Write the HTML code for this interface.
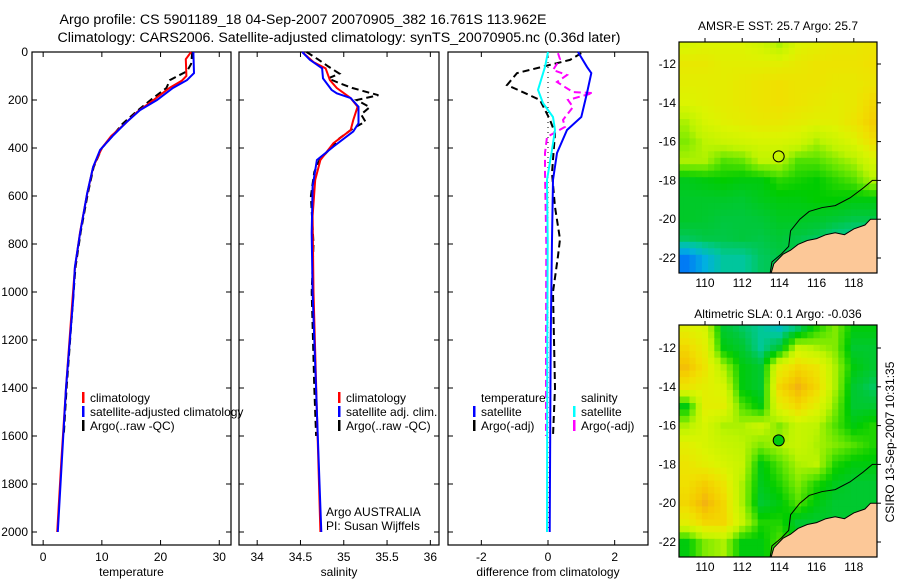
<!DOCTYPE html>
<html><head><meta charset="utf-8"><style>
body{margin:0;background:#fff}
svg text{font-family:"Liberation Sans",sans-serif;fill:#000}
</style></head><body>
<svg id="fig" width="900" height="580" viewBox="0 0 900 580" xmlns="http://www.w3.org/2000/svg">
<text x="303" y="24" font-size="14.2" text-anchor="middle">Argo profile: CS 5901189_18 04-Sep-2007 20070905_382 16.761S 113.962E</text>
<text x="339" y="42" font-size="14.2" text-anchor="middle">Climatology: CARS2006. Satellite-adjusted climatology: synTS_20070905.nc (0.36d later)</text>
<g id="plots"></g>
<text x="778" y="30" font-size="12" text-anchor="middle">AMSR-E SST: 25.7 Argo: 25.7</text>
<text x="778" y="318" font-size="12" text-anchor="middle">Altimetric SLA: 0.1 Argo: -0.036</text>
<text transform="translate(894,442) rotate(-90)" font-size="12" text-anchor="middle">CSIRO 13-Sep-2007 10:31:35</text>
</svg>
<script>
// ---------- profile data ----------
const tClimDepth=[0,30,100,120,150,200,250,300,350,400,480,590,750,900,1030,1400,1700,2000];
const tClimVal=[25.2,24.3,24.4,23.6,21.5,18.8,16.0,13.9,11.6,10.0,8.5,7.5,6.3,5.4,5.0,3.9,3.1,2.4];
const tSatDepth=[0,5,88,117,150,200,242,290,346,408,479,588,754,896,1033,1400,1700,2000];
const tSatVal=[25.6,25.6,25.7,24.5,22.1,19.4,16.5,14.3,12.0,9.7,8.5,7.5,6.3,5.4,5.1,3.9,3.2,2.5];
const tArgoDepth=[0,50,80,117,150,200,250,300,350,400,480,590,750,900,1030,1400,1600];
const tArgoVal=[25.4,25.2,24.5,21.6,21.0,18.3,15.8,13.5,11.8,10.0,8.6,7.6,6.4,5.5,5.1,4.0,3.5];
const sClimDepth=[0,42,68,117,150,192,228,283,325,380,450,533,683,1000,1500,2000];
const sClimVal=[34.52,34.65,34.79,34.84,34.92,35.08,35.16,35.11,35.08,34.88,34.73,34.67,34.64,34.65,34.69,34.73];
const sSatDepth=[0,33,68,110,158,172,192,228,297,331,394,450,561,755,1000,1500,2000];
const sSatVal=[34.52,34.61,34.75,34.76,34.86,34.92,35.08,35.17,35.17,35.11,34.88,34.69,34.64,34.63,34.64,34.69,34.74];
const sArgoDepth=[0,30,60,90,110,130,150,170,180,200,230,260,290,320,360,400,450,500,600,800,1000,1400,1600];
const sArgoVal=[34.57,34.7,34.82,34.95,34.82,34.95,35.1,35.3,35.4,35.15,35.3,35.2,35.25,35.1,34.95,34.85,34.72,34.66,34.62,34.65,34.63,34.66,34.68];
const dTSatDepth=[0,62,88,171,271,325,421,533,783,1200,2000];
const dTSatVal=[0.9,1.17,1.3,1.17,1.0,0.57,0.27,0.15,0.12,0.08,0.05];
const dSSatDepth=[0,62,158,213,271,325,408,533,783,1200,2000];
const dSSatVal=[0,-0.09,-0.3,-0.15,0.15,0.21,0.12,-0.03,-0.01,-0.02,-0.03];
const dTArgoDepth=[5,33,88,138,158,200,283,338,504,646,780,850,1000,1400,1600];
const dTArgoVal=[1.0,0.66,-0.93,-1.23,-0.9,-0.24,0.06,0.21,0.12,0.21,0.36,0.3,0.15,0.21,0.15];
const dSArgoDepth=[5,30,75,96,125,167,171,200,229,283,312,354,421,504,800,1200,1600];
const dSArgoVal=[0.3,0.36,0.15,0.57,0.27,0.75,1.35,0.6,0.75,0.45,0.51,-0.03,-0.09,-0.09,-0.05,-0.06,-0.06];
const depthTicks=[0,200,400,600,800,1000,1200,1400,1600,1800,2000];
const tempTicks=[0,10,20,30];
const salTicks=[34,34.5,35,35.5,36];
const diffTicks=[-2,0,2];
// ---------- map data (0..1 colour index), rows lat -11..-22, cols lon 109..119 ----------
const sstGrid=[
[.70,.72,.72,.72,.68,.60,.72,.75,.78,.78,.80],
[.78,.78,.75,.75,.75,.75,.78,.80,.80,.80,.82],
[.75,.75,.76,.78,.80,.82,.80,.80,.78,.78,.80],
[.72,.74,.76,.78,.80,.82,.80,.78,.76,.78,.85],
[.60,.70,.74,.76,.78,.78,.76,.74,.75,.80,.88],
[.55,.62,.66,.68,.70,.70,.68,.60,.66,.72,.82],
[.60,.60,.50,.52,.62,.62,.50,.50,.55,.60,.70],
[.38,.40,.42,.40,.40,.46,.44,.42,.46,.50,.60],
[.36,.36,.36,.35,.38,.40,.40,.42,.42,.40,.40],
[.36,.35,.33,.33,.34,.37,.37,.36,.34,.32,.32],
[.30,.32,.32,.33,.32,.34,.32,.30,.26,.24,.22],
[.05,.15,.24,.24,.30,.32,.32,.32,.32,.32,.32]];
const slaGrid=[
[.75,.70,.35,.30,.25,.20,.30,.45,.55,.40,.40],
[.85,.75,.40,.35,.25,.35,.65,.60,.55,.35,.35],
[.92,.80,.60,.40,.35,.75,.85,.80,.60,.40,.35],
[.80,.75,.70,.40,.35,.85,.95,.85,.60,.35,.30],
[.40,.75,.75,.50,.40,.75,.85,.75,.55,.35,.35],
[.60,.70,.60,.60,.65,.55,.65,.62,.50,.40,.45],
[.75,.70,.65,.62,.55,.60,.65,.60,.55,.50,.45],
[.80,.75,.70,.65,.40,.50,.60,.62,.45,.40,.40],
[.82,.88,.80,.60,.38,.45,.55,.45,.38,.35,.35],
[.85,.95,.85,.60,.35,.40,.50,.40,.35,.35,.35],
[.75,.85,.85,.65,.45,.45,.35,.35,.35,.35,.35],
[.40,.55,.60,.40,.40,.50,.40,.35,.35,.35,.35]];
const landLon=[113.55,113.7,114.0,114.2,114.6,115,115.5,116,116.5,117,117.5,118,118.6,118.9,119.3,119.3];
const landLat=[-22.8,-22.3,-22.0,-21.8,-21.6,-21.3,-21.1,-21.0,-20.8,-20.7,-20.8,-20.5,-20.3,-20.0,-20.0,-22.8];
const isoLon=[113.5,113.6,114.1,114.5,114.6,115.1,115.6,116.3,117,117.8,118.5,119,119.3];
const isoLat=[-22.8,-22.2,-21.8,-21.4,-20.6,-20.0,-19.6,-19.4,-19.3,-18.9,-18.4,-18.0,-18.0];
const argoLon=113.962, argoLat=-16.761;
const lonTicks=[110,112,114,116,118];
const latTicks=[-12,-14,-16,-18,-20,-22];

const NS='http://www.w3.org/2000/svg';
const root=document.getElementById('plots');
function mk(tag,attrs,parent){const e=document.createElementNS(NS,tag);for(const k in attrs)e.setAttribute(k,attrs[k]);(parent||root).appendChild(e);return e;}
const yD=d=>52+d*0.24;
const PT=52,PB=545;

function panel(name,x0,x1,vmin,vmax,ticks,label,showDepth){
  const sx=v=>x0+(v-vmin)/(vmax-vmin)*(x1-x0);
  const g=mk('g',{});
  
  
  const r=mk('rect',{x:x0,y:PT,width:x1-x0,height:PB-PT,fill:'none',stroke:'#000','stroke-width':1.2},g);
  
  
  depthTicks.forEach(d=>{
    mk('line',{x1:x0,x2:x0+5,y1:yD(d),y2:yD(d),stroke:'#000'},g);
    mk('line',{x1:x1,x2:x1-5,y1:yD(d),y2:yD(d),stroke:'#000'},g);
    if(showDepth){const t=mk('text',{x:x0-4,y:yD(d)+4,'font-size':12,'text-anchor':'end'},g);t.textContent=d;
      
      }
  });
  ticks.forEach(v=>{
    const X=sx(v);
    mk('line',{x1:X,x2:X,y1:PB,y2:PB-5,stroke:'#000'},g);
    mk('line',{x1:X,x2:X,y1:PT,y2:PT+5,stroke:'#000'},g);
    const t=mk('text',{x:X,y:561,'font-size':12,'text-anchor':'middle'},g);t.textContent=v;
    
    
  });
  const xl=mk('text',{x:(x0+x1)/2,y:576,'font-size':12,'text-anchor':'middle'},g);xl.textContent=label;
  
  
  return {g,sx};
}
function line(p,depths,vals,color,dash,nm){
  const pts=depths.map((d,i)=>p.sx(vals[i]).toFixed(1)+','+yD(d).toFixed(1)).join(' ');
  const l=mk('polyline',{points:pts,fill:'none',stroke:color,'stroke-width':2,'stroke-dasharray':dash||'none'},p.g);
  
  
}
function legend(g,x,y,color,text,nm){
  mk('rect',{x:x,y:y-10,width:2.5,height:11,fill:color},g);
  const t=mk('text',{x:x+8,y:y,'font-size':12},g);t.textContent=text;
  
  
}

const p1=panel('temperature-panel',32,231,-1.9,32,tempTicks,'temperature',true);
line(p1,tArgoDepth,tArgoVal,'#000','7,4','argo-temperature-line');
line(p1,tClimDepth,tClimVal,'#ff0000',null,'climatology-temperature-line');
line(p1,tSatDepth,tSatVal,'#0000ff',null,'satellite-temperature-line');
legend(p1.g,82,402,'#ff0000','climatology','legend-climatology');
legend(p1.g,82,416,'#0000ff','satellite-adjusted climatology','legend-satellite-adjusted');
legend(p1.g,82,430,'#000','Argo(..raw -QC)','legend-argo');

const p2=panel('salinity-panel',239,439,33.79,36.1,salTicks,'salinity',false);
line(p2,sArgoDepth,sArgoVal,'#000','7,4','argo-salinity-line');
line(p2,sClimDepth,sClimVal,'#ff0000',null,'climatology-salinity-line');
line(p2,sSatDepth,sSatVal,'#0000ff',null,'satellite-salinity-line');
legend(p2.g,338,402,'#ff0000','climatology','legend-sal-climatology');
legend(p2.g,338,416,'#0000ff','satellite adj. clim.','legend-sal-satellite');
legend(p2.g,338,430,'#000','Argo(..raw -QC)','legend-sal-argo');
const a1=mk('text',{x:326,y:516,'font-size':12},p2.g);a1.textContent='Argo AUSTRALIA';


const a2=mk('text',{x:326,y:530,'font-size':12},p2.g);a2.textContent='PI: Susan Wijffels';



const p3=panel('difference-panel',448,648,-3,3,diffTicks,'difference from climatology',false);
const z=mk('line',{x1:p3.sx(0),x2:p3.sx(0),y1:yD(0),y2:yD(2000),stroke:'#000','stroke-dasharray':'1,4'},p3.g);


line(p3,dTArgoDepth,dTArgoVal,'#000','7,4','argo-temp-diff-line');
line(p3,dSArgoDepth,dSArgoVal,'#ff00ff','7,4','argo-sal-diff-line');
line(p3,dTSatDepth,dTSatVal,'#0000ff',null,'satellite-temp-diff-line');
line(p3,dSSatDepth,dSSatVal,'#00ffff',null,'satellite-sal-diff-line');
const lt=mk('text',{x:481,y:402,'font-size':12},p3.g);lt.textContent='temperature';


const ls=mk('text',{x:581,y:402,'font-size':12},p3.g);ls.textContent='salinity';


legend(p3.g,473,416,'#0000ff','satellite','legend-temp-satellite');
legend(p3.g,473,430,'#000','Argo(-adj)','legend-temp-argo');
legend(p3.g,573,416,'#00ffff','satellite','legend-sal-satellite');
legend(p3.g,573,430,'#ff00ff','Argo(-adj)','legend-sal-argo');

// ---------- maps ----------
const stops=[[0,[0,96,255]],[0.15,[0,176,224]],[0.25,[0,200,150]],[0.33,[0,200,60]],[0.42,[0,204,0]],[0.52,[100,230,0]],[0.62,[190,244,0]],[0.72,[220,244,0]],[0.82,[240,224,0]],[0.9,[245,200,0]],[1,[240,160,32]]];
function cmap(v){v=Math.max(0,Math.min(1,v));for(let i=1;i<stops.length;i++){if(v<=stops[i][0]){const a=stops[i-1],b=stops[i],f=(v-a[0])/(b[0]-a[0]);const c=a[1].map((x,k)=>Math.round(x+(b[1][k]-x)*f));return 'rgb('+c.join(',')+')';}}return 'rgb(240,160,32)';}
function sample(grid,lon,lat){
  let c=lon-109,r=-lat-11;c=Math.max(0,Math.min(10,c));r=Math.max(0,Math.min(11,r));
  const c0=Math.min(9,Math.floor(c)),r0=Math.min(10,Math.floor(r)),fc=c-c0,fr=r-r0;
  return grid[r0][c0]*(1-fc)*(1-fr)+grid[r0][c0+1]*fc*(1-fr)+grid[r0+1][c0]*(1-fc)*fr+grid[r0+1][c0+1]*fc*fr;
}
function drawMap(name,grid,top,bottom,y12,filled){
  const L=679,R=877;
  const X=lon=>705+(lon-110)*18.6;
  const Y=lat=>y12+(-lat-12)*19.4;
  const g=mk('g',{});
  
  
  const cid=name+'-clip';
  const cp=mk('clipPath',{id:cid},g);mk('rect',{x:L,y:top,width:R-L,height:bottom-top},cp);
  const inner=mk('g',{'clip-path':'url(#'+cid+')'},g);
  const step=1/3;
  for(let lat=-10.5;lat>-23;lat-=step){
    for(let lon=108.5;lon<119.5;lon+=step){
      mk('rect',{x:X(lon).toFixed(1),y:Y(lat).toFixed(1),width:(step*18.6+0.6).toFixed(1),height:(step*19.4+0.6).toFixed(1),fill:cmap(sample(grid,lon+step/2,lat-step/2))},inner);
    }
  }
  const land=mk('polygon',{points:landLon.map((lo,i)=>X(lo)+','+Y(landLat[i])).join(' '),fill:'#fcc898',stroke:'#000','stroke-width':1},inner);
  
  
  const iso=mk('polyline',{points:isoLon.map((lo,i)=>X(lo)+','+Y(isoLat[i])).join(' '),fill:'none',stroke:'#000','stroke-width':1},inner);
  
  
  const c=mk('circle',{cx:X(argoLon),cy:Y(argoLat),r:5.5,fill:filled?cmap(0.4):'none',stroke:'#000','stroke-width':1},g);
  
  
  mk('rect',{x:L,y:top,width:R-L,height:bottom-top,fill:'none',stroke:'#000','stroke-width':1.2},g);
  lonTicks.forEach(lo=>{
    mk('line',{x1:X(lo),x2:X(lo),y1:top,y2:top-4,stroke:'#000'},g);
    const t=mk('text',{x:X(lo),y:bottom+14,'font-size':12,'text-anchor':'middle'},g);t.textContent=lo;
    
    
  });
  latTicks.forEach(la=>{
    mk('line',{x1:R,x2:R+4,y1:Y(la),y2:Y(la),stroke:'#000'},g);
    const t=mk('text',{x:L-3,y:Y(la)+4,'font-size':12,'text-anchor':'end'},g);t.textContent=la;
    
    
  });
}
drawMap('sst-map',sstGrid,42,273,64,false);
drawMap('sla-map',slaGrid,325,557,348,true);
</script>
</body></html>
